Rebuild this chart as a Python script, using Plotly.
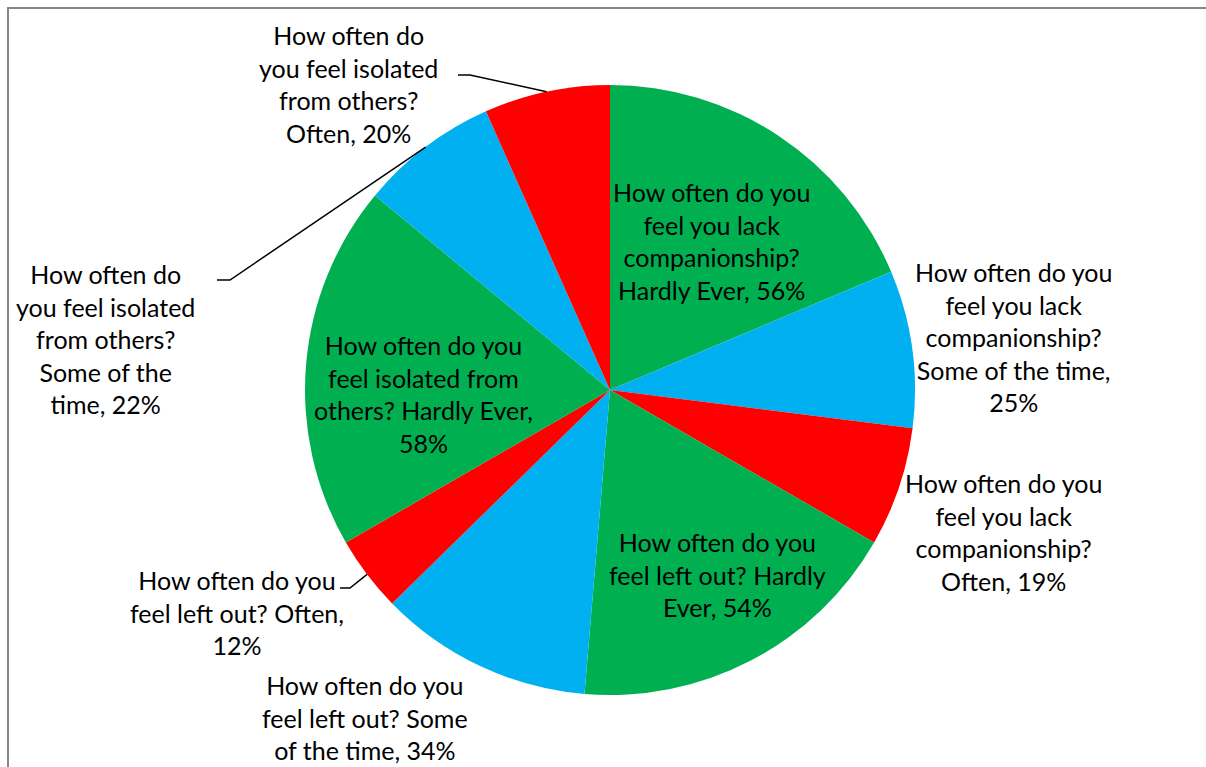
import math
import plotly.graph_objects as go

# ---------------- data ----------------
questions = [
    "How often do you feel you lack companionship?",
    "How often do you feel you lack companionship?",
    "How often do you feel you lack companionship?",
    "How often do you feel left out?",
    "How often do you feel left out?",
    "How often do you feel left out?",
    "How often do you feel isolated from others?",
    "How often do you feel isolated from others?",
    "How often do you feel isolated from others?",
]
responses = ["Hardly Ever", "Some of the time", "Often"] * 3
values = [56, 25, 19, 54, 34, 12, 58, 22, 20]
slice_colors = ["#00B050", "#00B0F0", "#FF0000"] * 3

# ---------------- layout constants ----------------
W, H = 1206, 767
CX, CY, R = 610, 390, 305            # pie centre / radius in px
FONT = dict(family="Lato, Calibri, sans-serif", size=25, color="#000000")

# words per wrapped line of each label
line_words = [[4, 3, 1, 3], [4, 3, 1, 4, 1], [4, 3, 1, 2],
              [4, 4, 2], [4, 4, 4], [4, 4, 1],
              [4, 3, 3, 1], [3, 3, 2, 3, 2], [3, 3, 2, 2]]
# label block centres (px)
label_pos = [(711, 241), (1014, 337), (1003, 532),
             (717, 574), (365, 717), (237, 612),
             (423, 394), (105, 339), (348, 84)]
# leader lines: slice index -> (start px, elbow px)
leaders = {8: ((458, 75), (470, 75)),
           7: ((217, 280), (230, 280)),
           5: ((340, 588), (350, 588))}


def px(x):
    return x / W


def py(y):
    return 1 - y / H


fig = go.Figure(go.Pie(
    values=values,
    labels=[f"{q} {r}" for q, r in zip(questions, responses)],
    marker=dict(colors=slice_colors, line=dict(width=0)),
    sort=False,
    direction="clockwise",
    rotation=0,
    textinfo="none",
    hoverinfo="label+percent",
    showlegend=False,
    domain=dict(x=[px(CX - R), px(CX + R)], y=[py(CY + R), py(CY - R)]),
))

annotations = []
for i, (q, r, v) in enumerate(zip(questions, responses, values)):
    words = f"{q} {r}, {v}%".split(" ")
    lines, k = [], 0
    for n in line_words[i]:
        lines.append(" ".join(words[k:k + n]))
        k += n
    x, y = label_pos[i]
    annotations.append(dict(
        x=px(x), y=py(y), xref="paper", yref="paper",
        text="<br>".join(lines), showarrow=False,
        xanchor="center", yanchor="middle", align="center",
        font=FONT,
    ))

shapes = []
total = sum(values)
cum = 0
for i, v in enumerate(values):
    mid = (cum + v / 2) / total * 2 * math.pi
    cum += v
    if i in leaders:
        ax = CX + R * math.sin(mid)
        ay = CY - R * math.cos(mid)
        (sx, sy), (ex, ey) = leaders[i]
        path = (f"M {px(sx)},{py(sy)} L {px(ex)},{py(ey)} "
                f"L {px(ax)},{py(ay)}")
        shapes.append(dict(type="path", xref="paper", yref="paper",
                           path=path, line=dict(color="#000000", width=1.5)))

# chart-area border (visible on left and top)
shapes.append(dict(type="rect", xref="paper", yref="paper",
                   x0=px(8), y0=-0.05, x1=1.05, y1=py(8),
                   line=dict(color="#868686", width=2), layer="below"))

fig.update_layout(
    width=W, height=H,
    margin=dict(l=0, r=0, t=0, b=0),
    paper_bgcolor="white", plot_bgcolor="white",
    annotations=annotations, shapes=shapes,
)

fig.write_html("out.html")
